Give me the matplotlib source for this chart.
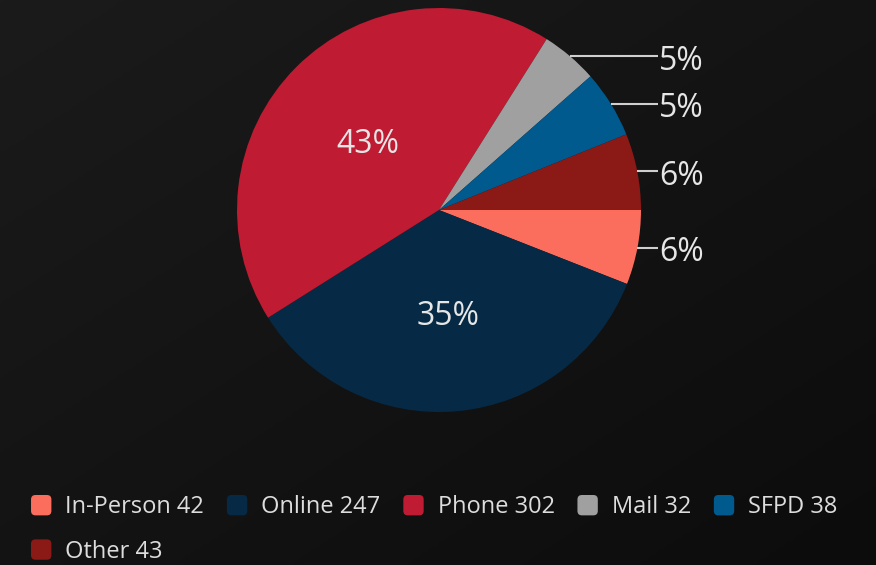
import numpy as np
import matplotlib
matplotlib.use("Agg")
import matplotlib.pyplot as plt
from matplotlib.patches import FancyBboxPatch, Wedge
from matplotlib.legend_handler import HandlerPatch

categories = ["In-Person", "Online", "Phone", "Mail", "SFPD", "Other"]
values = [42, 247, 302, 32, 38, 43]
colors = ["#fb6e5e", "#062a45", "#bf1b33", "#a0a0a0", "#005a8e", "#8b1a17"]
outside = ["In-Person", "Mail", "SFPD", "Other"]

plt.rcParams['font.family'] = ['Open Sans', 'DejaVu Sans']

W, H = 876, 565
fig = plt.figure(figsize=(W / 100, H / 100), dpi=100)

# background gradient
bg = fig.add_axes([0, 0, 1, 1], zorder=-10)
yy, xx = np.mgrid[0:1:200j, 0:1:300j]
grad = 0.5 * xx + 0.5 * yy
bg.imshow(grad, cmap=matplotlib.colors.LinearSegmentedColormap.from_list(
    "bg", ["#1b1b1b", "#0c0c0c"]), extent=[0, 1, 0, 1], aspect="auto", origin="upper")
bg.axis("off")

cx, cy, r = 439, 210, 202
ax = fig.add_axes([(cx - r) / W, (H - cy - r) / H, 2 * r / W, 2 * r / H])
total = sum(values)

wedges, _ = ax.pie(values, colors=colors, startangle=0, counterclock=False,
                   radius=1, wedgeprops=dict(linewidth=0))
ax.set_xlim(-1, 1)
ax.set_ylim(-1, 1)
ax.set_aspect("equal")
ax.axis("off")

for w, cat, v in zip(wedges, categories, values):
    ang = np.deg2rad((w.theta1 + w.theta2) / 2)
    pct = f"{round(100 * v / total)}%"
    if cat in outside:
        x0, y0 = np.cos(ang), np.sin(ang)
        ax.plot([x0, 1.085], [y0, y0], color="#cfcfcf", lw=1.5, clip_on=False,
                solid_capstyle="butt")
        ax.text(1.09, y0 - 0.025, pct, ha="left", va="center", fontsize=23,
                color="#e6e6e6", clip_on=False)
    else:
        ax.text(0.5 * np.cos(ang), 0.5 * np.sin(ang) - 0.03, pct, ha="center",
                va="center", fontsize=23, color="#e6e6e6")


class RoundHandler(HandlerPatch):
    def create_artists(self, legend, orig_handle, xdescent, ydescent, width,
                       height, fontsize, trans):
        s = min(width, height)
        p = FancyBboxPatch((-xdescent + (width - s) / 2, -ydescent + (height - s) / 2),
                           s, s,
                           boxstyle=f"round,pad=0,rounding_size={0.22 * s}",
                           facecolor=orig_handle.get_facecolor(),
                           edgecolor="none", transform=trans)
        return [p]


labels = [f"{c} {v}" for c, v in zip(categories, values)]
order = [0, 5, 1, 2, 3, 4]
leg = fig.legend([wedges[i] for i in order], [labels[i] for i in order],
                 handler_map={Wedge: RoundHandler()},
                 loc="upper left", bbox_to_anchor=(30 / W, 1 - 495 / H),
                 ncol=5, frameon=False, fontsize=17, labelcolor="#dddddd",
                 handlelength=0.95, handleheight=0.95, handletextpad=0.55,
                 columnspacing=0.92, labelspacing=0.85, borderpad=0,
                 borderaxespad=0)

fig.savefig("out.png", dpi=100, facecolor="#151515")
